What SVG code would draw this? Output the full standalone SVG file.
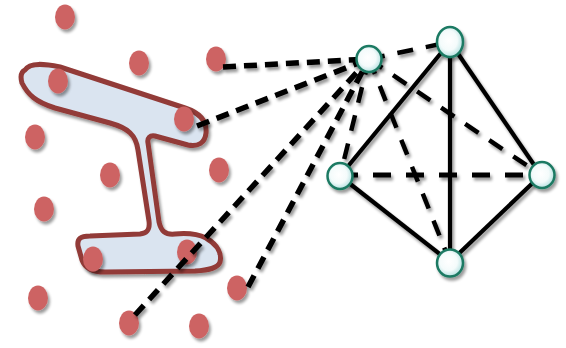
<svg xmlns="http://www.w3.org/2000/svg" width="566" height="348" viewBox="0 0 566 348">
<defs>
  <filter id="sh" x="-50%" y="-50%" width="200%" height="200%">
    <feGaussianBlur in="SourceAlpha" stdDeviation="1.6"/>
    <feOffset dx="1.5" dy="2.5" result="b"/>
    <feComponentTransfer><feFuncA type="linear" slope="0.4"/></feComponentTransfer>
    <feMerge><feMergeNode/><feMergeNode in="SourceGraphic"/></feMerge>
  </filter>
  <radialGradient id="ng" cx="0.45" cy="0.45" r="0.6">
    <stop offset="0" stop-color="#ffffff"/>
    <stop offset="0.55" stop-color="#f4fbfb"/>
    <stop offset="1" stop-color="#aadcdc"/>
  </radialGradient>
</defs>
<style>
  .pt{fill:#cd6464;}
  .fan{stroke:#000;stroke-width:5.5;stroke-dasharray:13 8;fill:none;}
  .td{stroke:#000;stroke-width:4.5;stroke-dasharray:16 13;fill:none;}
  .hd{stroke:#000;stroke-width:5;stroke-dasharray:18 15;fill:none;}
  .sol{stroke:#000;stroke-width:4.2;fill:none;}
  .nd{fill:url(#ng);stroke:#1d7a63;stroke-width:2.5;}
</style>
<g id="shape" filter="url(#sh)">
  <path d="M25,70 C30,62 45,64 60,67 L185,108 C200,113 207,122 206,133 C205,143 198,147 188,145 L155,136 C150,135 147,138 148,143 L159,222 C161,231 165,235 175,234 C186,233 196,233 206,238 C218,245 222,254 220,262 C218,268 210,270 195,271 L105,272 C92,272 85,268 82,260 L78,246 C77,239 80,236 90,236 L140,234 C148,233 150,229 149,221 L138,150 C136,135 128,128 110,123 L55,108 C36,102 28,95 22,83 C20,76 21,72 25,70 Z" fill="#dae4f0" stroke="#923a37" stroke-width="5" stroke-linejoin="round"/>
</g>
<g id="points" filter="url(#sh)">
  <ellipse id="p1" class="pt" cx="65" cy="17" rx="10" ry="12.5"/>
  <ellipse id="p2" class="pt" cx="139" cy="63" rx="10" ry="12.5"/>
  <ellipse id="p3" class="pt" cx="216" cy="59" rx="10" ry="12.5"/>
  <ellipse id="p4" class="pt" cx="58" cy="81" rx="10" ry="12.5"/>
  <ellipse id="p5" class="pt" cx="184" cy="119" rx="10" ry="12.5"/>
  <ellipse id="p6" class="pt" cx="35" cy="137" rx="10" ry="12.5"/>
  <ellipse id="p7" class="pt" cx="110" cy="175" rx="10" ry="12.5"/>
  <ellipse id="p8" class="pt" cx="219" cy="170" rx="10" ry="12.5"/>
  <ellipse id="p9" class="pt" cx="44" cy="209" rx="10" ry="12.5"/>
  <ellipse id="p10" class="pt" cx="93" cy="259" rx="10" ry="12.5"/>
  <ellipse id="p11" class="pt" cx="187" cy="252" rx="10" ry="12.5"/>
  <ellipse id="p12" class="pt" cx="38" cy="298" rx="10" ry="12.5"/>
  <ellipse id="p13" class="pt" cx="129" cy="323" rx="10" ry="12.5"/>
  <ellipse id="p14" class="pt" cx="237" cy="288" rx="10" ry="12.5"/>
  <ellipse id="p15" class="pt" cx="199" cy="326" rx="10" ry="12.5"/>
</g>
<g id="connectors" filter="url(#sh)">
  <line class="fan" x1="223" y1="67" x2="369" y2="59"/>
  <line class="fan" x1="197" y1="126" x2="369" y2="59"/>
  <line class="fan" x1="135" y1="315" x2="369" y2="59"/>
  <line class="fan" x1="248" y1="287" x2="369" y2="59"/>
  <line class="td" x1="369" y1="59" x2="340" y2="176"/>
  <line class="td" x1="369" y1="59" x2="450" y2="42"/>
  <line class="td" x1="369" y1="59" x2="450" y2="262"/>
  <line class="td" x1="369" y1="59" x2="541" y2="175"/>
  <line class="hd" x1="340" y1="175" x2="541" y2="175"/>
  <line class="sol" x1="450" y1="42" x2="340" y2="176"/>
  <line class="sol" x1="450" y1="42" x2="450" y2="262"/>
  <line class="sol" x1="450" y1="42" x2="541" y2="175"/>
  <line class="sol" x1="340" y1="176" x2="450" y2="262"/>
  <line class="sol" x1="541" y1="175" x2="450" y2="262"/>
</g>
<g id="nA" filter="url(#sh)"><ellipse class="nd" cx="369" cy="59" rx="12.5" ry="13"/></g>
<g id="nB" filter="url(#sh)"><ellipse class="nd" cx="450" cy="42" rx="13" ry="15"/></g>
<g id="nC" filter="url(#sh)"><ellipse class="nd" cx="340" cy="176" rx="12.5" ry="13"/></g>
<g id="nD" filter="url(#sh)"><ellipse class="nd" cx="542" cy="175" rx="12.5" ry="13"/></g>
<g id="nE" filter="url(#sh)"><ellipse class="nd" cx="450" cy="263" rx="13" ry="13.5"/></g>
</svg>
